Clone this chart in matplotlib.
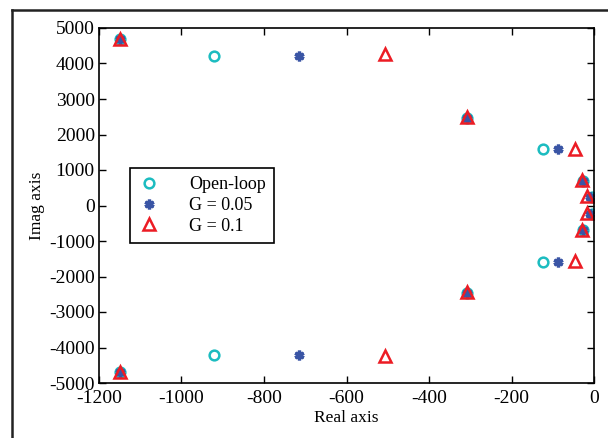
import matplotlib
matplotlib.use('Agg')
import matplotlib.pyplot as plt
from matplotlib.lines import Line2D

plt.rcParams['font.family'] = ['Liberation Serif', 'DejaVu Serif']
plt.rcParams['font.size'] = 12.5
plt.rcParams['axes.unicode_minus'] = False

# pole locations (real, imag)
open_re = [-1150, -1150, -920, -920, -308, -308, -124, -124, -26, -26, -4, -4]
open_im = [4690, -4690, 4200, -4200, 2460, -2460, 1580, -1580, 700, -700, 250, -250]

g05_re = [-1150, -1150, -715, -715, -308, -308, -88, -88, -26, -26, -10, -10]
g05_im = [4690, -4690, 4220, -4220, 2460, -2460, 1580, -1580, 700, -700, 240, -240]

g10_re = [-1150, -1150, -507, -507, -308, -308, -47, -47, -28, -28, -16, -16]
g10_im = [4700, -4680, 4270, -4230, 2480, -2440, 1600, -1560, 720, -680, 260, -220]

fig = plt.figure(figsize=(6.08, 4.38), dpi=100)
ax = fig.add_axes([99/608, 1 - 383/438, 495/608, 355/438])

ax.plot(open_re, open_im, 'o', mfc='none', mec='#1cbcc0', mew=1.8, ms=7,
        label='Open-loop')
ax.plot(g05_re, g05_im, ls='none', marker=(6, 2, 0), mec='#3a55a5', mew=2.4,
        ms=7, label='G = 0.05')
ax.plot(g10_re, g10_im, '^', mfc='none', mec='#ec1c24', mew=1.8, ms=8.5,
        label='G = 0.1')

ax.set_xlim(-1200, 0)
ax.set_ylim(-5000, 5000)
ax.set_xticks(range(-1200, 1, 200))
ax.set_yticks(range(-5000, 5001, 1000))
ax.tick_params(direction='in', top=True, right=True, length=5, width=1, pad=3,
               labelsize=14)
ax.tick_params(axis='x', pad=5)
for s in ax.spines.values():
    s.set_linewidth(1.2)
ax.set_xlabel('Real axis', labelpad=2)
ax.set_ylabel('Imag axis', labelpad=3)

leg = ax.legend(loc='upper left', bbox_to_anchor=(0.063, 0.605), fontsize=13,
                fancybox=False, edgecolor='black', framealpha=1,
                borderpad=0.45, handletextpad=1.6, labelspacing=0.2,
                handlelength=1.2, borderaxespad=0)
leg.get_frame().set_linewidth(1.2)

# outer frame (cropped at right and bottom)
fig.add_artist(Line2D([12/608, 12/608], [0, 1 - 9.5/438], color='#222222',
                      lw=1.8, transform=fig.transFigure))
fig.add_artist(Line2D([12/608, 1], [1 - 9.5/438, 1 - 9.5/438], color='#222222',
                      lw=1.8, transform=fig.transFigure))

fig.savefig('out.png', dpi=100)
